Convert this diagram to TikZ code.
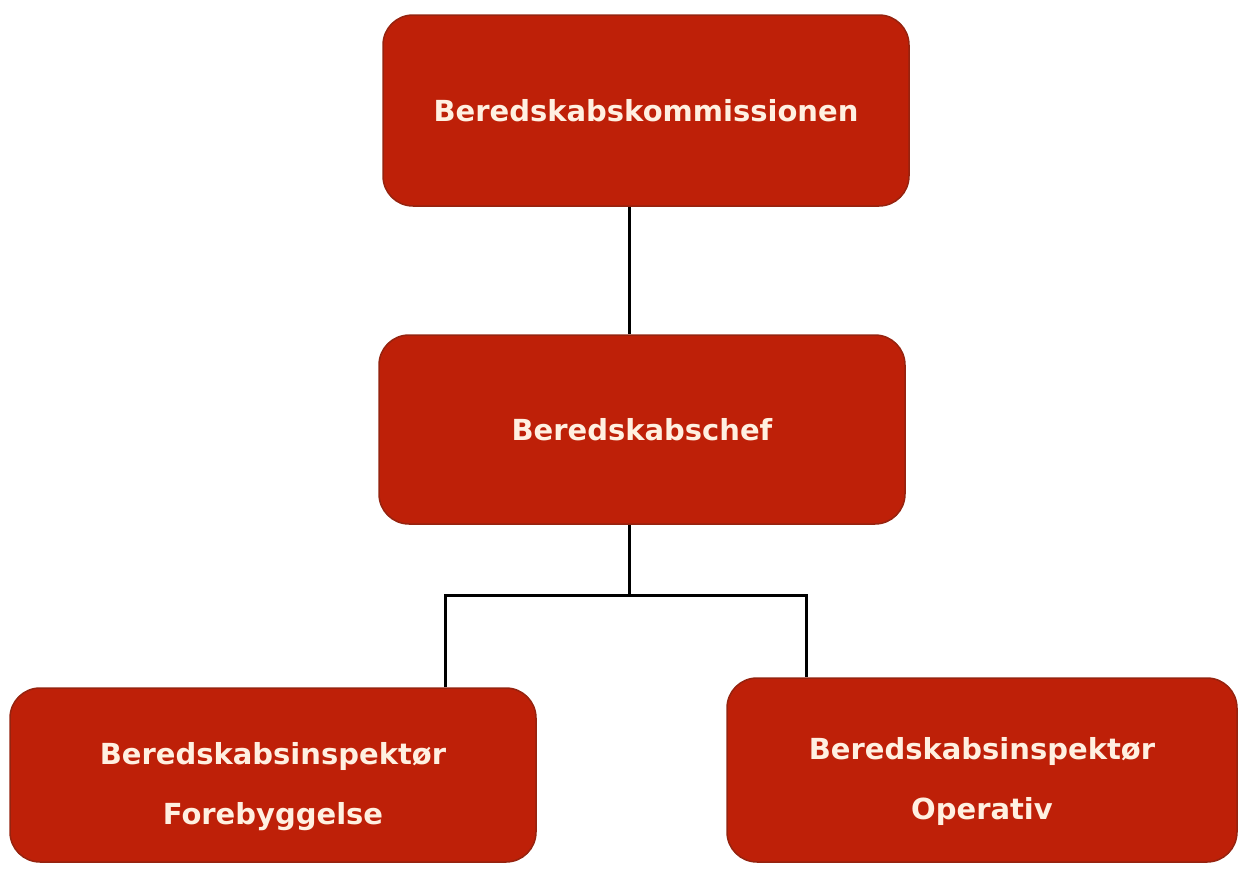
\documentclass[tikz,border=0pt]{standalone}
\usepackage{fontspec}
\setmainfont{DejaVu Sans}
\definecolor{boxred}{RGB}{190,32,8}
\definecolor{boxedge}{RGB}{150,35,15}
\definecolor{boxtext}{RGB}{255,240,225}
\newcommand{\lowerstrut}{\rule{0pt}{45pt}}
\tikzset{
  orgbox/.style={draw=boxedge, line width=1.5pt, fill=boxred, rounded corners=30pt,
    text=boxtext, align=center, inner sep=0pt,
    font=\bfseries\fontsize{29pt}{60pt}\selectfont},
  link/.style={draw=black, line width=3pt}
}
\begin{document}
\begin{tikzpicture}[x=1pt,y=-1pt]
\useasboundingbox (0,0) rectangle (1243,868);
\node[orgbox, minimum width=526pt, minimum height=191pt] (top) at (646,110.5) {Beredskabskommissionen};
\node[orgbox, minimum width=526pt, minimum height=189pt] (mid) at (642,429.5) {Beredskabschef};
\node[orgbox, minimum width=526pt, minimum height=174pt] (bl) at (273,775) {\lowerstrut Beredskabsinspektør\\Forebyggelse};
\node[orgbox, minimum width=510pt, minimum height=184pt] (br) at (982,770) {\lowerstrut Beredskabsinspektør\\Operativ};
\coordinate (jc) at (629,595);
\coordinate (jl) at (445,595);
\coordinate (jr) at (806,595);
\draw[link] (top.south -| jc) -- (mid.north -| jc);
\draw[link] (mid.south -| jc) -- (jc);
\draw[link] (bl.north -| jl) -- (jl) -- (jr) -- (br.north -| jr);
\end{tikzpicture}
\end{document}
